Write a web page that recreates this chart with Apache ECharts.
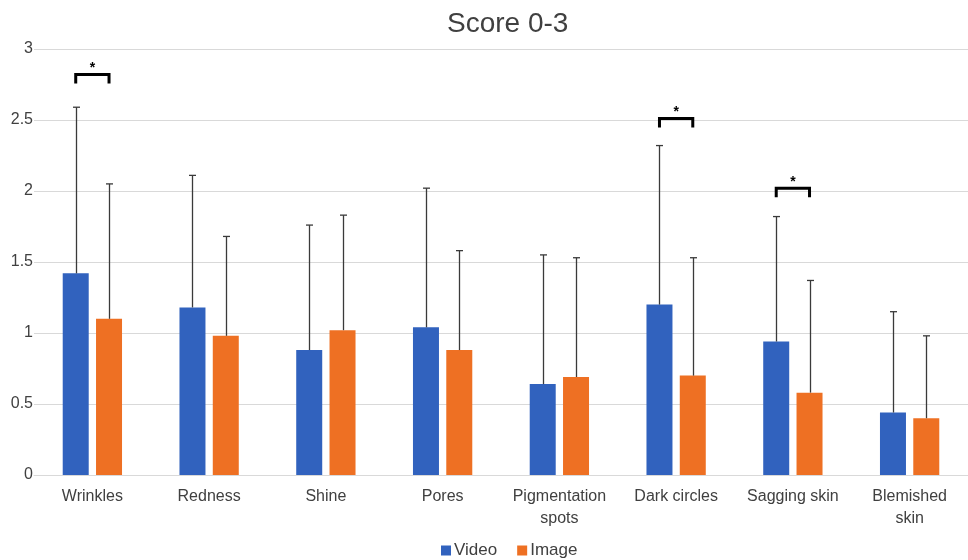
<!DOCTYPE html>
<html>
<head>
<meta charset="utf-8">
<style>
  html, body { margin: 0; padding: 0; background: #ffffff; }
  #chart { width: 968px; height: 560px; }
</style>
<script src="https://cdn.jsdelivr.net/npm/echarts@6/dist/echarts.min.js"></script>
</head>
<body>
<div id="chart"></div>
<script>
// Mean scores (0-3 scale) and standard deviations per skin attribute
const categories = ['Wrinkles', 'Redness', 'Shine', 'Pores', 'Pigmentation\nspots', 'Dark circles', 'Sagging skin', 'Blemished\nskin'];
const videoMean = [1.42, 1.18, 0.88, 1.04, 0.64, 1.20, 0.94, 0.44];
const videoSD   = [1.17, 0.93, 0.88, 0.98, 0.91, 1.12, 0.88, 0.71];
const imageMean = [1.10, 0.98, 1.02, 0.88, 0.69, 0.70, 0.58, 0.40];
const imageSD   = [0.95, 0.70, 0.81, 0.70, 0.84, 0.83, 0.79, 0.58];

// Significant differences (Video vs Image) and the height of each bracket
const sigCategories = ['Wrinkles', 'Dark circles', 'Sagging skin'];
const sigBracketY   = [2.82, 2.51, 2.02];

const FONT = "'Liberation Sans', Arial, Helvetica, sans-serif";
const TEXT = '#404040';
const BAR_W = 26;
const BAR_GAP = 7.3;
const HALF_SHIFT = (BAR_W + BAR_GAP) / 2;   // distance from category centre to each bar centre

function errorBars(sign) {
  return function (params, api) {
    const x = api.value(0);
    const mean = api.value(1);
    const sd = api.value(2);
    const base = api.coord([x, mean]);
    const top = api.coord([x, mean + sd]);
    const cx = Math.round(base[0] + sign * HALF_SHIFT) + 0.5;
    const style = { stroke: '#3a3a3a', lineWidth: 1.3 };
    return {
      type: 'group',
      children: [
        { type: 'line', shape: { x1: cx, y1: base[1], x2: cx, y2: top[1] }, style: style },
        { type: 'line', shape: { x1: cx - 3.5, y1: top[1], x2: cx + 3.5, y2: top[1] }, style: style }
      ]
    };
  };
}

function bracket(params, api) {
  const p = api.coord([api.value(0), api.value(1)]);
  const l = p[0] - HALF_SHIFT;
  const r = p[0] + HALF_SHIFT;
  const y = p[1];
  return {
    type: 'group',
    children: [
      {
        type: 'polyline',
        shape: { points: [[l, y + 9], [l, y], [r, y], [r, y + 9]] },
        style: { stroke: '#000000', lineWidth: 3, fill: null, lineJoin: 'miter', lineCap: 'butt' }
      },
      {
        type: 'text',
        style: {
          text: '*', x: p[0], y: y - 6, align: 'center', verticalAlign: 'middle',
          fontSize: 14, fontWeight: 'bold', fontFamily: FONT, fill: '#000000'
        }
      }
    ]
  };
}

const chart = echarts.init(document.getElementById('chart'), null, { renderer: 'canvas' });

chart.setOption({
  backgroundColor: '#ffffff',
  animation: false,
  title: {
    text: 'Score 0-3',
    left: 442,
    top: 5,
    textStyle: { fontFamily: FONT, fontSize: 28, fontWeight: 'normal', color: TEXT }
  },
  legend: {
    data: ['Video', 'Image'],
    left: 436,
    top: 537,
    icon: 'rect',
    itemWidth: 10,
    itemHeight: 10,
    itemGap: 20,
    textStyle: { fontFamily: FONT, fontSize: 17, color: TEXT, padding: [0, 0, 0, -2] }
  },
  grid: { left: 34, top: 49, width: 939, height: 426, containLabel: false },
  xAxis: {
    type: 'category',
    data: categories,
    axisLine: { show: true, lineStyle: { color: '#d9d9d9', width: 1 } },
    axisTick: { show: false },
    axisLabel: {
      interval: 0, margin: 11, fontFamily: FONT, fontSize: 16, color: TEXT, lineHeight: 22
    }
  },
  yAxis: {
    type: 'value',
    min: 0,
    max: 3,
    interval: 0.5,
    axisLine: { show: false },
    axisTick: { show: false },
    splitLine: { lineStyle: { color: '#d9d9d9', width: 1 } },
    axisLabel: { margin: 1, fontFamily: FONT, fontSize: 16, color: TEXT, padding: [0, 0, 11, 0] }
  },
  series: [
    {
      name: 'Video', type: 'bar', data: videoMean,
      barWidth: BAR_W, barGap: (BAR_GAP / BAR_W * 100).toFixed(1) + '%',
      itemStyle: { color: '#3162be' }, z: 2
    },
    {
      name: 'Image', type: 'bar', data: imageMean,
      barWidth: BAR_W,
      itemStyle: { color: '#ee7023' }, z: 2
    },
    {
      name: 'Video SD', type: 'custom', renderItem: errorBars(-1), clip: false, z: 3,
      data: videoMean.map((m, i) => [i, m, videoSD[i]])
    },
    {
      name: 'Image SD', type: 'custom', renderItem: errorBars(1), clip: false, z: 3,
      data: imageMean.map((m, i) => [i, m, imageSD[i]])
    },
    {
      name: 'Significance', type: 'custom', renderItem: bracket, clip: false, z: 4,
      data: sigCategories.map((c, i) => [categories.indexOf(c), sigBracketY[i]])
    }
  ]
});
</script>
</body>
</html>
